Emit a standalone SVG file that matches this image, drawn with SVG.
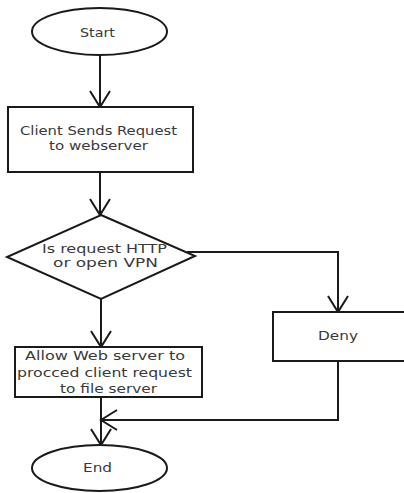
<svg xmlns="http://www.w3.org/2000/svg" width="404" height="493" viewBox="0 0 404 493">
  <style>
    .shape { fill: #ffffff; stroke: #1a1a1a; stroke-width: 2; }
    .wire { fill: none; stroke: #1a1a1a; stroke-width: 2; }
    .label { font-family: "DejaVu Sans", Verdana, sans-serif; font-size: 12px; fill: #3a3a3a; text-anchor: middle; }
  </style>
  <defs>
    <!-- open V arrowhead -->
    <marker id="open-arrow" markerUnits="userSpaceOnUse" markerWidth="40" markerHeight="40" viewBox="-20 -20 40 40" refX="0" refY="0" orient="auto" overflow="visible">
      <path d="M-16,-10 L0,0 L-16,10" fill="none" stroke="#1a1a1a" stroke-width="2"/>
    </marker>
  </defs>

  <rect x="0" y="0" width="404" height="493" fill="#ffffff"/>

  <g id="connectors">
    <path class="wire" d="M100,55 V107" marker-end="url(#open-arrow)"/>
    <path class="wire" d="M100,172 V215" marker-end="url(#open-arrow)"/>
    <path class="wire" d="M187,252 H338 V312" marker-end="url(#open-arrow)"/>
    <path class="wire" d="M101,299 V347" marker-end="url(#open-arrow)"/>
    <path class="wire" d="M101,397 V445" marker-end="url(#open-arrow)"/>
    <path class="wire" d="M338,361 V420 H101" marker-end="url(#open-arrow)"/>
  </g>

  <g id="start">
    <ellipse class="shape" cx="99.5" cy="31.5" rx="67.5" ry="23.5"/>
    <text class="label" x="97.5" y="37" textLength="35" lengthAdjust="spacingAndGlyphs">Start</text>
  </g>

  <g id="client-request">
    <rect class="shape" x="8" y="107" width="185" height="65"/>
    <text class="label" x="98.5" y="135" textLength="157" lengthAdjust="spacingAndGlyphs">Client Sends Request</text>
    <text class="label" x="98.5" y="150" textLength="99" lengthAdjust="spacingAndGlyphs">to webserver</text>
  </g>

  <g id="decision">
    <polygon class="shape" points="101,215 195,256 101,299 7,257"/>
    <text class="label" x="104.5" y="253" textLength="125" lengthAdjust="spacingAndGlyphs">Is request HTTP</text>
    <text class="label" x="105.5" y="267" textLength="105" lengthAdjust="spacingAndGlyphs">or open VPN</text>
  </g>

  <g id="deny">
    <rect class="shape" x="273" y="312" width="140" height="49"/>
    <text class="label" x="338" y="340" textLength="40" lengthAdjust="spacingAndGlyphs">Deny</text>
  </g>

  <g id="allow">
    <rect class="shape" x="15" y="347" width="187" height="50"/>
    <text class="label" x="105" y="360" textLength="160" lengthAdjust="spacingAndGlyphs">Allow Web server to</text>
    <text class="label" x="104.5" y="377" textLength="175" lengthAdjust="spacingAndGlyphs">procced client request</text>
    <text class="label" x="108.5" y="393" textLength="97" lengthAdjust="spacingAndGlyphs">to file server</text>
  </g>

  <g id="end">
    <ellipse class="shape" cx="99.5" cy="468" rx="67.5" ry="23"/>
    <text class="label" x="97.5" y="472" textLength="29" lengthAdjust="spacingAndGlyphs">End</text>
  </g>
</svg>
